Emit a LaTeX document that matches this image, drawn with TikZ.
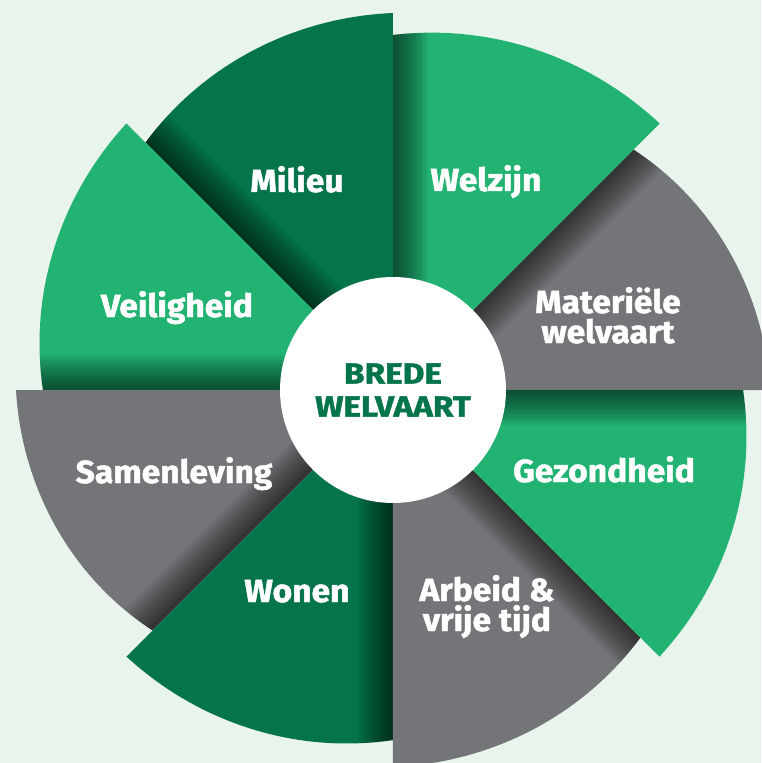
\documentclass[tikz,border=0pt]{standalone}
\usepackage{fontspec}
\setmainfont{Fira Sans}
\newfontfamily\heavyfont[FakeStretch=1.05,FakeBold=1.5]{Fira Sans}
\newfontfamily\hubfont[FakeStretch=1.15,FakeBold=1.5]{Fira Sans}
\definecolor{bg}{RGB}{233,244,236}
\definecolor{lightgreen}{RGB}{34,179,115}
\definecolor{darkgreen}{RGB}{4,116,74}
\definecolor{slate}{RGB}{116,117,121}
% #1 start angle, #2 colour, #3 radius at the end edge
\newcommand{\petalpath}[2]{(0,0) -- plot[domain=0:1,samples=40,variable=\t]
  ({#1+45*\t}:{377-(377-#2)*(0.45*\t+0.55*\t*\t)}) -- cycle}
\newcommand{\petal}[3]{%
  \fill[#2] \petalpath{#1}{#3};
  \begin{scope}
  \clip \petalpath{#1}{#3};
  \foreach \k in {1,...,14}
    \fill[black,opacity=0.05,rotate=#1+45] (0,-2.5*\k) rectangle (420,0);
  \end{scope}}
\begin{document}
\begin{tikzpicture}[x=1pt,y=1pt,
  lbl/.style={text=white,font=\heavyfont\bfseries\fontsize{32}{30}\selectfont,align=center,anchor=base},
  hub/.style={circle,fill=white,minimum size=226pt,inner sep=0pt,text=darkgreen,
    font=\hubfont\bfseries\fontsize{29}{33}\selectfont,align=center}]
\fill[bg] (-393,-373) rectangle (368,390);
\useasboundingbox (-393,-373) rectangle (368,390);

\petal{0}{slate}{340}
\petal{45}{lightgreen}{355}
\petal{90}{darkgreen}{350}
\petal{135}{lightgreen}{350}
\petal{180}{slate}{340}
\petal{225}{darkgreen}{350}
\petal{270}{slate}{350}
\petal{315}{lightgreen}{350}

\node[hub] (brede) at (0,0) {BREDE\\WELVAART};

\node[lbl] (milieu) at (-96,198) {Milieu};
\node[lbl] (welzijn) at (93,199) {Welzijn};
\node[lbl] (materieel) at (215,47) {Materiële\\welvaart};
\node[lbl] (veiligheid) at (-216,73) {Veiligheid};
\node[lbl] (samenleving) at (-219,-93) {Samenleving};
\node[lbl] (wonen) at (-96,-212) {Wonen};
\node[lbl] (gezondheid) at (211,-92) {Gezondheid};
\node[lbl] (arbeid) at (94,-241) {Arbeid \&\\vrije tijd};
\end{tikzpicture}
\end{document}
